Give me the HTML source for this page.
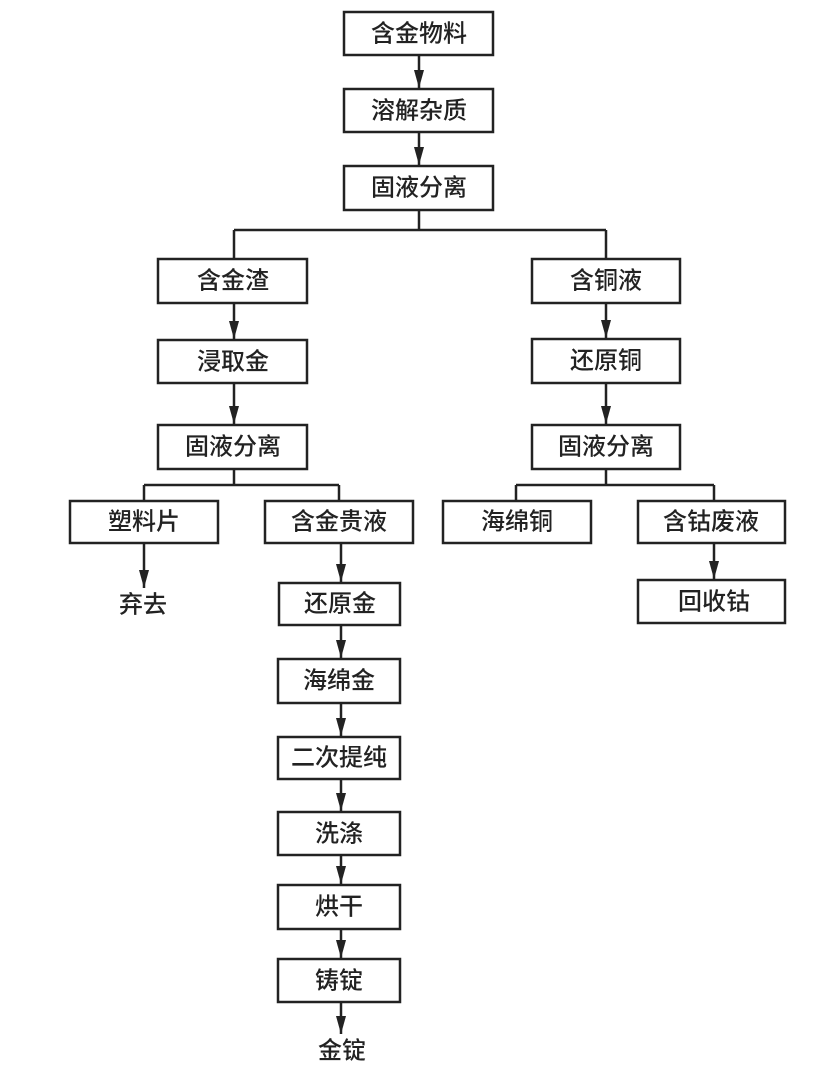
<!DOCTYPE html>
<html><head><meta charset="utf-8"><style>
html,body{margin:0;padding:0;background:#fff;}
svg{display:block}
text{font-family:"Liberation Sans","Noto Sans CJK SC",sans-serif;font-size:24px;font-weight:500;fill:#222;text-anchor:middle;dominant-baseline:central}
rect{fill:#fff;stroke:#222;stroke-width:2.5}
line{stroke:#222;stroke-width:2.5}
</style></head><body>
<svg width="834" height="1084" viewBox="0 0 834 1084">
<defs><marker id="a" markerWidth="18" markerHeight="10" refX="18" refY="5" orient="auto" markerUnits="userSpaceOnUse"><path d="M0,0 L18,5 L0,10 Z" fill="#222"/></marker></defs>
<!-- connectors -->
<line x1="419" y1="55" x2="419" y2="88" marker-end="url(#a)"/>
<line x1="419" y1="132" x2="419" y2="165" marker-end="url(#a)"/>
<line x1="419" y1="210" x2="419" y2="230"/>
<line x1="234" y1="230" x2="606" y2="230"/>
<line x1="234" y1="230" x2="234" y2="259"/>
<line x1="606" y1="230" x2="606" y2="259"/>
<line x1="234" y1="303" x2="234" y2="339" marker-end="url(#a)"/>
<line x1="234" y1="383" x2="234" y2="424" marker-end="url(#a)"/>
<line x1="234" y1="469" x2="234" y2="485"/>
<line x1="144" y1="485" x2="339" y2="485"/>
<line x1="144" y1="485" x2="144" y2="501"/>
<line x1="339" y1="485" x2="339" y2="501"/>
<line x1="144" y1="543" x2="144" y2="588" marker-end="url(#a)"/>
<line x1="341" y1="543" x2="341" y2="582" marker-end="url(#a)"/>
<line x1="341" y1="625" x2="341" y2="658" marker-end="url(#a)"/>
<line x1="341" y1="703" x2="341" y2="736" marker-end="url(#a)"/>
<line x1="341" y1="779" x2="341" y2="811" marker-end="url(#a)"/>
<line x1="341" y1="855" x2="341" y2="884" marker-end="url(#a)"/>
<line x1="341" y1="929" x2="341" y2="958" marker-end="url(#a)"/>
<line x1="341" y1="1002" x2="341" y2="1034" marker-end="url(#a)"/>
<line x1="606" y1="303" x2="606" y2="338" marker-end="url(#a)"/>
<line x1="606" y1="383" x2="606" y2="424" marker-end="url(#a)"/>
<line x1="606" y1="469" x2="606" y2="485"/>
<line x1="516" y1="485" x2="714" y2="485"/>
<line x1="516" y1="485" x2="516" y2="501"/>
<line x1="714" y1="485" x2="714" y2="501"/>
<line x1="714" y1="543" x2="714" y2="579" marker-end="url(#a)"/>
<!-- boxes -->
<rect x="344" y="12" width="149" height="43"/><text x="419" y="34">含金物料</text>
<rect x="344" y="89" width="149" height="43"/><text x="419" y="111">溶解杂质</text>
<rect x="344" y="166" width="149" height="44"/><text x="419" y="188">固液分离</text>
<rect x="158" y="259" width="149" height="44"/><text x="233" y="281">含金渣</text>
<rect x="158" y="340" width="149" height="43"/><text x="233" y="362">浸取金</text>
<rect x="158" y="425" width="149" height="44"/><text x="233" y="447">固液分离</text>
<rect x="70" y="501" width="148" height="42"/><text x="144" y="522">塑料片</text>
<rect x="265" y="501" width="148" height="42"/><text x="339" y="522">含金贵液</text>
<text x="143" y="605">弃去</text>
<rect x="279" y="583" width="121" height="42"/><text x="340" y="604">还原金</text>
<rect x="278" y="659" width="122" height="44"/><text x="339" y="681">海绵金</text>
<rect x="278" y="737" width="122" height="42"/><text x="339" y="758">二次提纯</text>
<rect x="278" y="812" width="122" height="43"/><text x="339" y="834">洗涤</text>
<rect x="278" y="885" width="122" height="44"/><text x="339" y="907">烘干</text>
<rect x="278" y="959" width="122" height="43"/><text x="339" y="981">铸锭</text>
<text x="342" y="1051">金锭</text>
<rect x="532" y="259" width="148" height="44"/><text x="606" y="281">含铜液</text>
<rect x="532" y="339" width="148" height="44"/><text x="606" y="361">还原铜</text>
<rect x="532" y="425" width="148" height="44"/><text x="606" y="447">固液分离</text>
<rect x="443" y="501" width="148" height="42"/><text x="517" y="522">海绵铜</text>
<rect x="638" y="501" width="147" height="42"/><text x="711" y="522">含钴废液</text>
<rect x="638" y="580" width="147" height="43"/><text x="714" y="602">回收钴</text>
</svg>
</body></html>
